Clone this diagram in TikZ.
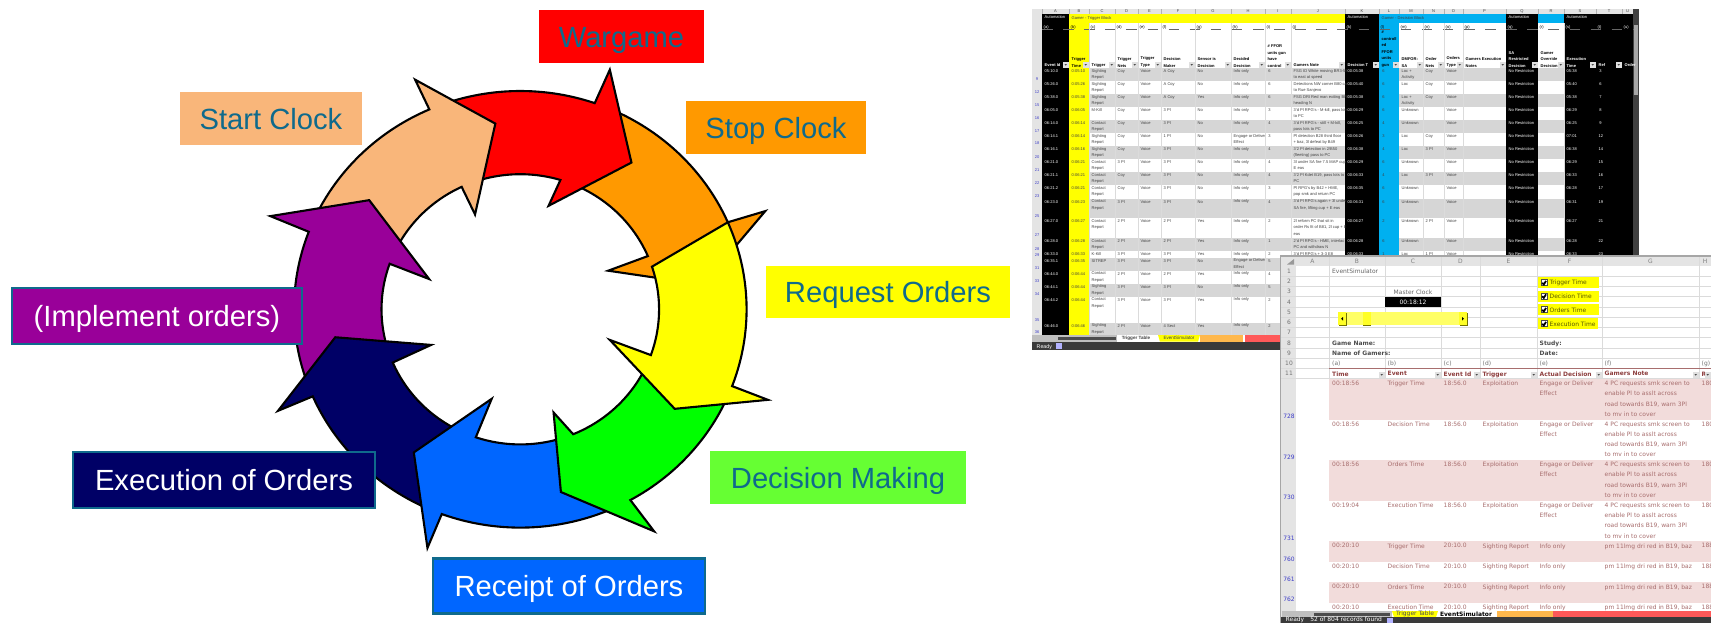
\documentclass[tikz,border=0pt]{standalone}
\usepackage{fontspec}
\usepackage{tikz}
\setmainfont{Liberation Sans}
\newfontfamily\gridfont{DejaVu Sans}

\definecolor{tagline}{HTML}{0F6A8C}
\definecolor{ringpeach}{HTML}{F9B67A}
\definecolor{ringorange}{HTML}{FF9900}
\definecolor{ringyellow}{HTML}{FFFF00}
\definecolor{ringblue}{HTML}{0066FF}
\definecolor{ringnavy}{HTML}{000066}
\definecolor{ringpurple}{HTML}{990099}
\definecolor{taggreen}{HTML}{66FF33}
\definecolor{barblue}{HTML}{00B0F0}
\definecolor{sheetbar}{HTML}{E4E4E4}
\definecolor{rowgray}{HTML}{D6D6D6}
\definecolor{rowpink}{HTML}{F2DCDB}
\definecolor{rosetext}{HTML}{A86E6E}
\definecolor{headtext}{HTML}{8E3F3F}
\definecolor{numblue}{HTML}{3C3CC8}
\definecolor{paleyellow}{HTML}{FFFF66}
\definecolor{statusdark}{HTML}{3A3A3A}

\tikzset{
  segment/.style={draw=black,line width=.6pt,miter limit=12},
  tag/.style={inner sep=0pt,font=\fontsize{8.3}{10}\selectfont,text=tagline,text height=.24cm,text depth=.03cm},
  tagwhite/.style={tag,text=white,draw=tagline,line width=.6pt},
  cellA/.style={anchor=north west,inner sep=0pt,align=left,text=black!75,
    font=\fontsize{1.15}{1.85}\selectfont},
  cellB/.style={anchor=north west,inner sep=0pt,align=left,text=rosetext,
    font=\gridfont\fontsize{1.7}{2.9}\selectfont},
  headB/.style={cellB,text=headtext,font=\gridfont\bfseries\fontsize{1.7}{2.9}\selectfont},
  grid/.style={draw=black!14,line width=.12pt},
}

% colour, outer arc from/to, barb, tip, barb, inner arc from/to
\newcommand{\ringarrow}[8]{
  \draw[segment,fill=#1] plot[domain=#2:#3,samples=30] (\x:680 and 656)
    -- #4 -- #5 -- #6
    -- plot[domain=#7:#8,samples=30] (\x:417 and 406) -- cycle;
}
\newcommand{\filterbtn}[2]{
  \fill[black!12] (#1-6,#2-6) rectangle (#1-.5,#2-.5);
  \fill[black!70] (#1-4.6,#2-4) -- (#1-2,#2-4) -- (#1-3.3,#2-2.4) -- cycle;
}

\begin{document}
\begin{tikzpicture}[x=.01cm,y=-.01cm]
  \clip (0,0) rectangle (1711,623);

  \begin{scope}[shift={(520.3,309.3)},x=.003333cm,y=.003333cm]
    \ringarrow{ringorange}{70}{23.5}{(736,295)}{(549,74)}{(264,116)}{23.2}{70}
    \ringarrow{red}{110}{70.8}{(269,720)}{(334,441)}{(85,311)}{73.2}{109}
    \ringarrow{ringpeach}{155}{113.7}{(-316,690)}{(-75,558)}{(-136,285)}{115}{153}
    \ringarrow{ringpurple}{200}{159.2}{(-751,280)}{(-454,328)}{(-274,91)}{160.3}{197}
    \ringarrow{ringnavy}{246}{203.5}{(-728,-305)}{(-556,-84)}{(-268,-107)}{203.2}{245}
    \ringarrow{ringblue}{296}{249.7}{(-279,-717)}{(-320,-430)}{(-86,-269)}{251.3}{288}
    \ringarrow{green}{337}{299.1}{(402,-667)}{(122,-549)}{(100,-310)}{292.4}{334}
    \ringarrow{ringyellow}{23.5}{-20.6}{(744,-272)}{(464,-299)}{(269,-92)}{-19.8}{18.4}
  \end{scope}

  \node[tag,fill=red,minimum width=1.65cm,minimum height=.53cm] (wargame) at (621.5,36.5) {Wargame};
  \node[tag,fill=ringorange,minimum width=1.8cm,minimum height=.53cm] (stopclock) at (776,127.5) {Stop Clock};
  \node[tag,fill=ringyellow,minimum width=2.44cm,minimum height=.52cm] (request) at (888,292) {Request Orders};
  \node[tag,fill=taggreen,minimum width=2.56cm,minimum height=.53cm] (decision) at (838,477.5) {Decision Making};
  \node[tagwhite,fill=ringblue,minimum width=2.72cm,minimum height=.55cm] (receipt) at (569,586) {Receipt of Orders};
  \node[tagwhite,fill=ringnavy,minimum width=3.02cm,minimum height=.56cm] (execution) at (224,480) {Execution of Orders};
  \node[tagwhite,fill=ringpurple,minimum width=2.9cm,minimum height=.56cm] (implement) at (157,316) {(Implement orders)};
  \node[tag,fill=ringpeach,minimum width=1.82cm,minimum height=.53cm] (startclock) at (271,118.5) {Start Clock};

  % trigger table
  \fill[sheetbar] (1032,9) rectangle (1639,14);
  \fill[sheetbar] (1032,14) rectangle (1042,335);
  \fill[black] (1042,14) rectangle (1069,335);
  \fill[black] (1345,14) rectangle (1379,335);
  \fill[black] (1506,14) rectangle (1538,335);
  \fill[black] (1564,14) rectangle (1633,335);
  \fill[ringyellow] (1069,14) rectangle (1089,335);
  \fill[ringyellow] (1089,14) rectangle (1345,23);
  \fill[barblue] (1379,14) rectangle (1399,335);
  \fill[barblue] (1399,14) rectangle (1506,23);
  \fill[barblue] (1538,14) rectangle (1564,23);
  \fill[black!75] (1633,9) rectangle (1639,256);
  \fill[black!35] (1634,25) rectangle (1638,95);
  \draw[black!60,dashed,line width=.15pt] (1042,29.3) -- (1633,29.3);

  \node[cellA,text=white] (autoa) at (1044,15) {Automation};
  \node[cellA] (blocka) at (1071,16) {Gamer - Trigger Block};
  \node[cellA,text=white] (autok) at (1347,15) {Automation};
  \node[cellA] (blockl) at (1381,16) {Gamer - Decision Block};
  \node[cellA,text=white] (autoq) at (1508,15) {Automation};
  \node[cellA,text=white] (autos) at (1566,15) {Automation};

  \foreach \lt/\lc/\xa/\xb/\tc in {A/a/1042/1069/white,B/b/1069/1089/black,C/c/1089/1115/black,D/d/1115/1138/black,
      E/e/1138/1161/black,F/f/1161/1195/black,G/g/1195/1231/black,H/h/1231/1265/black,I/i/1265/1291/black,
      J/j/1291/1345/black,K/k/1345/1379/white,L/l/1379/1399/black,M/m/1399/1423/black,N/n/1423/1444/black,
      O/o/1444/1463/black,P/p/1463/1506/black,Q/q/1506/1538/white,R/r/1538/1564/black,S/s/1564/1596/white,
      T/t/1596/1622/white,U/u/1622/1633/white}{
    \node[cellA,anchor=center] (top\lt) at ({(\xa+\xb)/2},11.5) {\lt};
    \node[cellA,text=\tc] (let\lt) at (\xa+1,24.5) {(\lc)};
    \draw[black!30,line width=.12pt] (\xa,9) -- (\xa,14);
  }
  \foreach \hx/\hy/\htext/\tc in {1044/68/\textbf{Event Id}/white,1071/68/{\textbf{Trigger}\\\textbf{Time}}/black,
      1091/68/\textbf{Trigger}/black,1117/68/{\textbf{Trigger}\\\textbf{Nets}}/black,
      1140/68/{\textbf{Trigger}\\\textbf{Type}}/black,1163/68/{\textbf{Decision}\\\textbf{Maker}}/black,
      1197/68/{\textbf{Sensor is}\\\textbf{Decision}}/black,1233/68/{\textbf{Decided}\\\textbf{Decision}}/black,
      1267/68/{\textbf{\# FFOR}\\\textbf{units gun}\\\textbf{have}\\\textbf{control}}/black,
      1293/68/\textbf{Gamers Note}/black,1347/68/\textbf{Decision T}/white,
      1381/68/{\textbf{\#}\\\textbf{controll}\\\textbf{ed}\\\textbf{FFOR}\\\textbf{units}\\\textbf{gun}}/black,
      1401/68/{\textbf{DMFOR:}\\\textbf{SA}}/black,1425/68/{\textbf{Order}\\\textbf{Nets}}/black,
      1446/68/{\textbf{Orders}\\\textbf{Type}}/black,1465/68/{\textbf{Gamers Execution}\\\textbf{Notes}}/black,
      1508/68/{\textbf{SA}\\\textbf{Restricted}\\\textbf{Decision}}/white,
      1540/68/{\textbf{Gamer}\\\textbf{Override}\\\textbf{Decision}}/black,
      1566/68/{\textbf{Execution}\\\textbf{Time}}/white,1598/68/\textbf{Ref}/white,1624/68/\textbf{Order}/white}{
    \node[cellA,anchor=south west,text=\tc] (hd\hx) at (\hx,\hy) {\htext};
  }
  \foreach \fx in {1069,1089,1115,1138,1161,1195,1231,1265,1291,1345,1379,1399,1423,1444,1463,1506,1538,1564,1596,1622}{
    \filterbtn{\fx}{68}
  }

  \foreach \rid/\ya/\yb/\shd/\evn/\tm/\trg/\nets/\mkr/\sens/\dcd/\gun/\gnote/\dtm/\ffr/\sa/\ords/\etm/\rfn in {
      9/68.3/81.3/rowgray/05:10.0/0:05:10/{Sighting\\Report}/Coy/A Coy/No/Info only/6/{FSG ID White moving BR3-56\\to east at speed}/00:05:38/6/{Loc +\\Activity}/Coy/05:38/3,
      12/81.3/94.3/white/05:26.0/0:05:26/{Sighting\\Report}/Coy/A Coy/No/Info only/6/{Detections NW corner B80 ca\\to Rue Sanjevo}/00:05:40/6/Loc/Coy/05:40/6,
      15/94.3/107.3/rowgray/05:38.0/0:05:38/{Sighting\\Report}/Coy/A Coy/Yes/Info only/6/{FSG DRI Red man exiting BR3\\heading N}/00:05:38/6/{Loc +\\Activity}/Coy/05:38/7,
      16/107.3/120.3/white/06:05.0/0:06:05/M-Kill/Coy/3 Pl/No/Info only/3/{3'd Pl RPG's - M-kill, pass lots\\to PC}/00:06:29/6/Unknown//06:29/8,
      17/120.3/133.3/rowgray/06:14.0/0:06:14/{Contact\\Report}/Coy/3 Pl/No/Info only/4/{3'd Pl RPG's - still + M-kill,\\pass lots to PC}/00:06:25/4/Unknown//06:25/9,
      18/133.3/146/white/06:14.1/0:06:14/{Sighting\\Report}/Coy/1 Pl/No/{Engage or Deliver\\Effect}/3/{Pl detection B28 third floor\\+ baz, 3l defeat by B49}/00:06:26/3/Loc/Coy/07:01/12,
      20/146/159.3/rowgray/06:16.1/0:06:16/{Sighting\\Report}/Coy/3 Pl/No/Info only/4/{3'2 Pl detection in 2/B50\\(fleeting) pass to PC}/00:06:38/4/Loc/3 Pl/06:38/14,
      21/159.3/172.3/white/06:21.0/0:06:21/{Contact\\Report}/3 Pl/3 Pl/No/Info only/4/{3l under SA fire 7.5 MAP cup +\\E eas}/00:06:29/6/Unknown//06:29/15,
      22/172.3/185.3/rowgray/06:21.1/0:06:21/{Contact\\Report}/Coy/3 Pl/No/Info only/4/{3'2 Pl Kdet B19, pass lots to\\PC}/00:06:33/4/Loc/3 Pl/06:33/16,
      23/185.3/198.7/white/06:21.2/0:06:21/{Contact\\Report}/Coy/3 Pl/No/Info only/3/{Pl RPG's by B42 + HME,\\pop smk and return PC}/00:06:35/6/Unknown//06:28/17,
      25/198.7/218.3/rowgray/06:23.0/0:06:23/{Contact\\Report}/3 Pl/3 Pl/No/Info only/4/{3'd Pl RPG's again + 3l under\\SA fire, lifting cup + E eas}/00:06:31/6/Unknown//06:31/19,
      27/218.3/238/white/06:27.0/0:06:27/{Contact\\Report}/2 Pl/2 Pl/Yes/Info only/2/{2l reform PC that sit in\\order Rs fit of B81, 2l cup + E\\eas}/00:06:27/2/Unknown/2 Pl/06:27/21,
      28/238/251.3/rowgray/06:28.0/0:06:28/{Contact\\Report}/2 Pl/2 Pl/Yes/Info only/1/{2'd Pl RPG's - HME, interlac\\PC and withdraw N}/00:06:28/6/Unknown//06:28/22,
      29/251.3/257.7/white/06:33.0/0:06:33/K-Kill/3 Pl/3 Pl/Yes/Info only/2/{3'd Pl RPG's + 3-3 E8}/00:06:33/1/Loc/1 Pl/06:33/23,
      31/257.7/270.7/rowgray/06:35.1/0:06:35/SITREP/3 Pl/3 Pl/No/{Engage or Deliver\\Effect}/5////////,
      33/270.7/283.7/white/06:44.0/0:06:44/{Contact\\Report}/2 Pl/2 Pl/Yes/Info only/4////////,
      34/283.7/296.7/rowgray/06:44.1/0:06:44/{Sighting\\Report}/3 Pl/3 Pl/No/Info only/5////////,
      35/296.7/322.7/white/06:44.2/0:06:44/{Contact\\Report}/3 Pl/3 Pl/Yes/Info only/2////////,
      36/322.7/335/rowgray/06:46.0/0:06:46/{Sighting\\Report}/2 Pl/4 Sect/Yes/Info only/2////////}{
    \fill[\shd] (1089,\ya) rectangle (1345,\yb);
    \fill[\shd] (1399,\ya) rectangle (1506,\yb);
    \fill[\shd] (1538,\ya) rectangle (1564,\yb);
    \node[cellA,anchor=south,text=numblue] (id\rid) at (1037,\yb) {\rid};
    \node[cellA,text=white] (ev\rid) at (1044,\ya+.5) {\evn};
    \node[cellA] (tm\rid) at (1071,\ya+.5) {\tm};
    \node[cellA] (trg\rid) at (1091,\ya+.5) {\trg};
    \node[cellA] (net\rid) at (1117,\ya+.5) {\nets};
    \node[cellA] (typ\rid) at (1140,\ya+.5) {Voice};
    \node[cellA] (mkr\rid) at (1163,\ya+.5) {\mkr};
    \node[cellA] (sen\rid) at (1197,\ya+.5) {\sens};
    \node[cellA] (dcd\rid) at (1233,\ya+.5) {\dcd};
    \node[cellA] (gun\rid) at (1267,\ya+.5) {\gun};
    \ifx\dtm\empty\else
      \node[cellA] (nte\rid) at (1293,\ya+.5) {\gnote};
      \node[cellA,text=white] (dtm\rid) at (1347,\ya+.5) {\dtm};
      \node[cellA] (ffr\rid) at (1381,\ya+.5) {\ffr};
      \node[cellA] (sa\rid) at (1401,\ya+.5) {\sa};
      \node[cellA] (oty\rid) at (1446,\ya+.5) {Voice};
      \node[cellA,text=white] (res\rid) at (1508,\ya+.5) {No Restriction};
      \node[cellA,text=white] (etm\rid) at (1566,\ya+.5) {\etm};
      \node[cellA,text=white] (rfn\rid) at (1598,\ya+.5) {\rfn};
    \fi
    \ifx\ords\empty\else
      \node[cellA] (ord\rid) at (1425,\ya+.5) {\ords};
    \fi
  }
  \foreach \gx in {1089,1115,1138,1161,1195,1231,1265,1291,1423,1444,1463,1564}{
    \draw[grid] (\gx,23) -- (\gx,335);
  }

  \fill[black!25] (1032,335) rectangle (1117,341.7);
  \fill[black!70] (1058,336.5) rectangle (1116,340);
  \fill[white] (1117,335) -- (1155,335) -- (1153,341.7) -- (1119,341.7) -- cycle;
  \fill[ringyellow] (1158,335) -- (1200,335) -- (1198,341.7) -- (1160,341.7) -- cycle;
  \fill[ringorange!70] (1200,335) rectangle (1243,341.7);
  \fill[red!65] (1245,335) rectangle (1281,341.7);
  \fill[statusdark] (1032,341.7) rectangle (1281,350);
  \fill[white!70!blue] (1056,343) rectangle (1062,348.5);
  \node[cellA,font=\bfseries\fontsize{1.3}{1.85}\selectfont] (tabtrig) at (1136,338.3) [anchor=center] {Trigger Table};
  \node[cellA,font=\fontsize{1.3}{1.85}\selectfont] (tabsim) at (1179,338.3) [anchor=center] {EventSimulator};
  \node[cellA,text=white,font=\fontsize{1.5}{1.85}\selectfont] (readya) at (1036,343.8) {Ready};

  % event simulator
  \fill[white] (1281,256) rectangle (1711,623);
  \draw[black!35,line width=.3pt] (1281,623) -- (1281,256) -- (1711,256);
  \fill[sheetbar] (1281,257) rectangle (1711,266);
  \fill[sheetbar] (1281,257) rectangle (1296,623);
  \fill[black!40] (1287,264.5) -- (1294,264.5) -- (1294,259) -- cycle;

  \foreach \lt/\xa/\xb in {A/1296/1329,B/1329/1385,C/1385/1441,D/1441/1480,E/1480/1537,F/1537/1602,G/1602/1699,H/1699/1711}{
    \node[cellB,anchor=center,text=black!50] (colb\lt) at ({(\xa+\xb)/2},261.5) {\lt};
    \draw[grid] (\xb,257) -- (\xb,379);
  }
  \foreach \rw in {1,...,11}{
    \node[cellB,anchor=center,text=black!55] (rowb\rw) at (1289,{271.2+10.23*(\rw-1)}) {\rw};
    \draw[grid] (1281,{276.2+10.23*(\rw-1)}) -- (1711,{276.2+10.23*(\rw-1)});
  }

  \node[cellB,text=black!60] (evtitle) at (1331.5,268.5) {EventSimulator};
  \node[cellB,anchor=center,text=black!60] (masterclk) at (1413,292) {Master Clock};
  \node[cellB,anchor=center,fill=black,text=white,minimum width=.56cm,minimum height=.105cm] (clock) at (1413,302) {00:18:12};
  \fill[paleyellow] (1338,312) rectangle (1467,325);
  \foreach \bx in {1338,1362.5,1459}{
    \fill[black!55!ringyellow] (\bx+.6,313) rectangle (\bx+8.6,325.6);
    \fill[ringyellow!85!white] (\bx,312.4) rectangle (\bx+8,325);
  }
  \fill[black] (1343,317) -- (1343,320.5) -- (1341,318.7) -- cycle;
  \fill[black] (1462,317) -- (1462,320.5) -- (1464,318.7) -- cycle;

  \foreach \cb/\cy/\cw/\ctext in {tr/277.3/1599/Trigger Time,dc/290.7/1599/Decision Time,or/304.3/1599/Orders Time,ex/318.3/1598/Execution Time}{
    \fill[ringyellow] (1538,\cy) rectangle (\cw,\cy+11);
    \draw[black!70,fill=white,line width=.25pt] (1541,\cy+2.5) rectangle (1547,\cy+8.5);
    \draw[black,line width=.5pt] (1542.2,\cy+5.5) -- (1543.8,\cy+7.2) -- (1546,\cy+3.6);
    \node[cellB,anchor=west,text=black!65!ringyellow] (chk\cb) at (1549,\cy+5.6) {\ctext};
  }

  \node[headB,text=black!70] (gamename) at (1331.5,340) {Game Name:};
  \node[headB,text=black!70] (gamers) at (1331.5,350.2) {Name of Gamers:};
  \node[headB,text=black!70] (study) at (1539,340) {Study:};
  \node[headB,text=black!70] (date) at (1539,350.2) {Date:};
  \foreach \lt/\lx in {a/1331.5,b/1387,c/1443,d/1482,e/1539,f/1604,g/1701}{
    \node[cellB,text=black!55] (letb\lt) at (\lx,360.5) {(\lt)};
  }
  \draw[rosetext,line width=.3pt] (1329,368.3) -- (1711,368.3);
  \foreach \hx/\rx/\htext in {1331.5/1385/Time,1387/1441/Event,1443/1480/Event Id,1482/1537/Trigger,
      1539/1602/Actual Decision,1604/1699/Gamers Note,1701/1711/Ref}{
    \node[headB] (headb\hx) at (\hx,370.8) {\htext};
    \filterbtn{\rx}{378}
  }

  \foreach \rid/\ya/\yb/\shd/\tm/\ev/\evid/\trg/\act/\gnote/\rfn in {
      728/379/419.5/rowpink/00:18:56/Trigger Time/18:56.0/Exploitation/{Engage or Deliver\\Effect}/{4 PC requests smk screen to\\enable Pl to asslt across\\road towards B19, warn 3Pl\\to mv in to cover}/180,
      729/419.5/460/white/00:18:56/Decision Time/18:56.0/Exploitation/{Engage or Deliver\\Effect}/{4 PC requests smk screen to\\enable Pl to asslt across\\road towards B19, warn 3Pl\\to mv in to cover}/180,
      730/460/500.7/rowpink/00:18:56/Orders Time/18:56.0/Exploitation/{Engage or Deliver\\Effect}/{4 PC requests smk screen to\\enable Pl to asslt across\\road towards B19, warn 3Pl\\to mv in to cover}/180,
      731/500.7/541.3/white/00:19:04/Execution Time/18:56.0/Exploitation/{Engage or Deliver\\Effect}/{4 PC requests smk screen to\\enable Pl to asslt across\\road towards B19, warn 3Pl\\to mv in to cover}/180,
      760/541.3/562/rowpink/00:20:10/Trigger Time/20:10.0/Sighting Report/Info only/{pm 11lmg dri red in B19, baz}/188,
      761/562/582.3/white/00:20:10/Decision Time/20:10.0/Sighting Report/Info only/{pm 11lmg dri red in B19, baz}/188,
      762/582.3/602.7/rowpink/00:20:10/Orders Time/20:10.0/Sighting Report/Info only/{pm 11lmg dri red in B19, baz}/188,
      763/602.7/623/white/00:20:10/Execution Time/20:10.0/Sighting Report/Info only/{pm 11lmg dri red in B19, baz}/188}{
    \fill[\shd] (1329,\ya) rectangle (1711,\yb);
    \node[cellB,anchor=south,text=numblue] (idb\rid) at (1289,\yb) {\rid};
    \node[cellB] (tmb\rid) at (1331.5,\ya+1.5) {\tm};
    \node[cellB] (evb\rid) at (1387,\ya+1.5) {\ev};
    \node[cellB] (eib\rid) at (1443,\ya+1.5) {\evid};
    \node[cellB] (trb\rid) at (1482,\ya+1.5) {\trg};
    \node[cellB] (acb\rid) at (1539,\ya+1.5) {\act};
    \node[cellB] (ntb\rid) at (1604,\ya+1.5) {\gnote};
    \node[cellB] (rfb\rid) at (1701,\ya+1.5) {\rfn};
  }

  \fill[black!25] (1282,611) rectangle (1392,617.3);
  \fill[black!70] (1314,612.5) rectangle (1390,616);
  \fill[ringyellow] (1392,611) -- (1438,611) -- (1436,617.3) -- (1394,617.3) -- cycle;
  \fill[white] (1440,611) -- (1493,611) -- (1491,617.3) -- (1442,617.3) -- cycle;
  \fill[ringorange!70] (1497,611) rectangle (1553,617.3);
  \fill[red!65] (1553,611) rectangle (1711,617.3);
  \fill[statusdark] (1281,617.3) rectangle (1711,623);
  \fill[white!70!blue] (1387,618) rectangle (1393,622.5);
  \node[cellB,anchor=center,text=black!70] (tabtrigb) at (1415,614.2) {Trigger Table};
  \node[headB,anchor=center,text=black] (tabsimb) at (1466,614.2) {EventSimulator};
  \node[cellB,anchor=west,text=white] (readyb) at (1285,620.2) {Ready\quad 52 of 804 records found};
\end{tikzpicture}
\end{document}
